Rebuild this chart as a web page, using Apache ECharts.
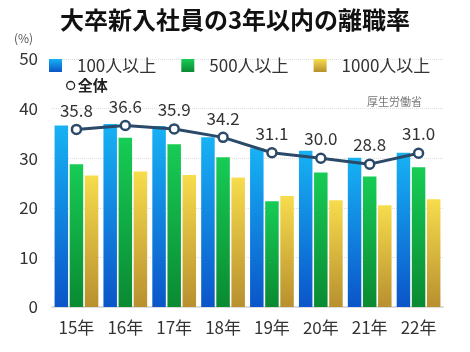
<!DOCTYPE html>
<html>
<head>
<meta charset="utf-8">
<script src="https://cdn.jsdelivr.net/npm/echarts@6/dist/echarts.min.js"></script>
<style>
html,body{margin:0;padding:0;background:#fff;}
#main{width:470px;height:352px;}
</style>
</head>
<body>
<div id="main"></div>
<script>
// 大卒新入社員の3年以内の離職率
var years = ["15年","16年","17年","18年","19年","20年","21年","22年"];
var s100 = [36.6, 36.9, 36.5, 34.2, 32.0, 31.5, 30.1, 31.1];
var s500 = [28.8, 34.1, 32.8, 30.2, 21.3, 27.1, 26.3, 28.2];
var s1000 = [26.5, 27.3, 26.6, 26.1, 22.4, 21.5, 20.5, 21.7];
var total = [35.8, 36.6, 35.9, 34.2, 31.1, 30.0, 28.8, 31.0];

var font = "'Noto Sans CJK JP', sans-serif";

function grad(top, bottom) {
  return new echarts.graphic.LinearGradient(0, 0, 0, 1, [
    {offset: 0, color: top},
    {offset: 1, color: bottom}
  ]);
}

var myChart = echarts.init(document.getElementById('main'));
myChart.setOption({
  backgroundColor: '#fff',
  animation: false,
  textStyle: {fontFamily: font},
  title: [{
    text: '大卒新入社員の3年以内の離職率',
    left: 'center',
    top: 3,
    textStyle: {fontSize: 24, fontWeight: 'bold', color: '#111', fontFamily: font}
  }, {
    text: '(%)',
    left: 9,
    top: 27,
    textStyle: {fontSize: 12, fontWeight: 'normal', color: '#555', fontFamily: font}
  }, {
    text: '厚生労働省',
    left: 362,
    top: 91,
    textStyle: {fontSize: 11, fontWeight: 'normal', color: '#777', fontFamily: font}
  }],
  legend: [{
    data: ['100人以上', '500人以上', '1000人以上'],
    left: 44,
    top: 52,
    itemWidth: 13,
    itemHeight: 13,
    itemGap: 25,
    icon: 'rect',
    textStyle: {fontSize: 17, color: '#333', padding: [0, 0, 0, 10], fontFamily: font}
  }, {
    data: ['全体'],
    left: 61,
    top: 73,
    icon: 'circle',
    itemWidth: 8,
    itemHeight: 8,
    itemStyle: {color: '#fff', borderColor: '#222', borderWidth: 1.3},
    textStyle: {fontSize: 15, fontWeight: 'bold', color: '#222', padding: [0, 0, 0, -2], fontFamily: font}
  }],
  grid: {left: 52, right: 27, top: 59, bottom: 45},
  xAxis: {
    type: 'category',
    data: years,
    axisTick: {show: false},
    axisLine: {lineStyle: {color: '#dcdcdc', width: 2}},
    axisLabel: {fontSize: 17, color: '#333', margin: 12, fontFamily: font}
  },
  yAxis: {
    type: 'value',
    min: 0,
    max: 50,
    interval: 10,
    axisLine: {show: false},
    axisTick: {show: false},
    axisLabel: {fontSize: 17, color: '#333', margin: 14, fontFamily: font},
    splitLine: {lineStyle: {color: '#dedede', type: 'dotted'}}
  },
  series: [{
    name: '100人以上',
    type: 'bar',
    data: s100,
    barWidth: 13.5,
    barGap: '12%',
    itemStyle: {color: grad('#17b2f4', '#0b55c9')}
  }, {
    name: '500人以上',
    type: 'bar',
    data: s500,
    barWidth: 13.5,
    barGap: '12%',
    itemStyle: {color: grad('#17cc55', '#0a8a32')}
  }, {
    name: '1000人以上',
    type: 'bar',
    data: s1000,
    barWidth: 13.5,
    barGap: '12%',
    itemStyle: {color: grad('#f7dc4c', '#b8902f')}
  }, {
    name: '全体',
    type: 'line',
    data: total,
    symbol: 'circle',
    symbolSize: 9,
    z: 5,
    lineStyle: {color: '#2b4a69', width: 3},
    itemStyle: {color: '#fff', borderColor: '#2b4a69', borderWidth: 2.5},
    label: {
      show: true,
      position: 'top',
      distance: 5,
      fontSize: 17,
      color: '#333',
      fontFamily: font,
      formatter: function (p) { return p.value.toFixed(1); }
    }
  }]
});
</script>
</body>
</html>
